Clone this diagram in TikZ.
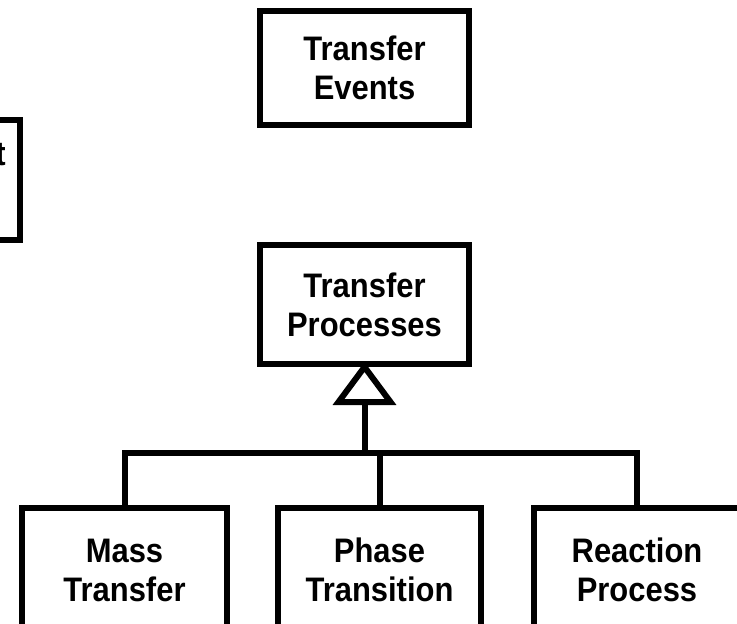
\documentclass[tikz,border=0pt]{standalone}
\usepackage{fontspec}
\setmainfont{Liberation Sans}[FakeStretch=0.91]
\begin{document}
\begin{tikzpicture}[x=1pt,y=-1pt,
  boxfont/.style={font=\fontsize{34}{39}\selectfont\bfseries},
  box/.style={draw=black,line width=6pt,rectangle,inner sep=0pt,
    align=center,boxfont},
  link/.style={draw=black,line width=6pt,line join=miter}]
  \useasboundingbox (0,0) rectangle (737,624);
  \clip (0,0) rectangle (737,624);
  \fill[white] (0,0) rectangle (737,624);

  % upper boxes
  \node[box,minimum width=209pt,minimum height=114pt] (TE) at (364.5,68) {Transfer\\Events};
  \node[box,minimum width=220pt,minimum height=120pt] (LB) at (-90.5,180) {};
  \node[boxfont,inner sep=0pt,anchor=base east] (LBt) at (6,165) {t};
  \node[box,minimum width=209pt,minimum height=119pt] (TP) at (364.5,304.5) {Transfer\\Processes};

  % specialised processes
  \node[box,minimum width=205pt,minimum height=124pt] (MT) at (124.5,570) {Mass\\Transfer};
  \node[box,minimum width=203pt,minimum height=124pt] (PT) at (379.5,570) {Phase\\Transition};
  \node[box,minimum width=206pt,minimum height=124pt] (RP) at (637,570) {Reaction\\Process};

  % generalisation arrow
  \coordinate (hub) at (364.5,453);
  \draw[link] (TP.south) -- ++(-26,35) -- ++(52,0) -- cycle;
  \draw[link] ([yshift=-35pt]TP.south) -- (hub);
  \draw[link] (MT.north) |- (hub) -| (RP.north);
  \draw[link] (PT.north) -- (PT.north |- hub);
\end{tikzpicture}
\end{document}
